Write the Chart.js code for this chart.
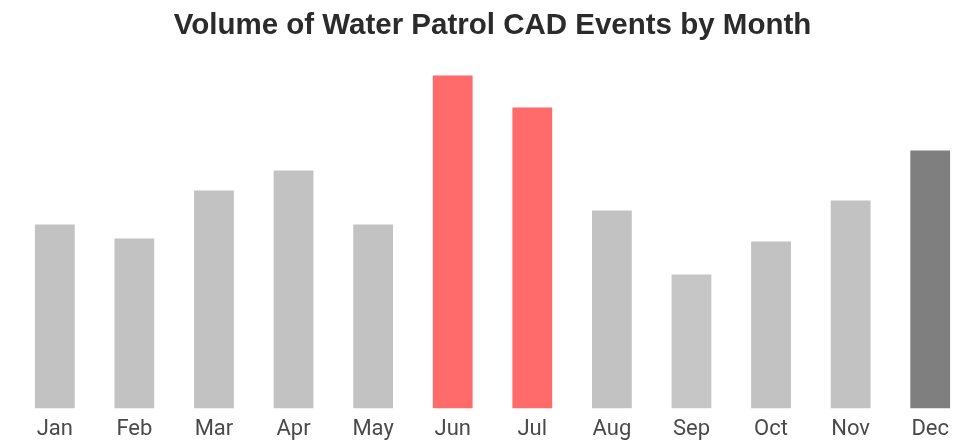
<!DOCTYPE html>
<html>
<head>
<meta charset="utf-8">
<script src="https://cdn.jsdelivr.net/npm/chart.js@4/dist/chart.umd.min.js"></script>
<style>
  html, body { margin: 0; padding: 0; background: #fff; overflow: hidden; }
  #wrap { width: 980px; height: 456px; }
</style>
</head>
<body>
<div id="wrap"><canvas id="c" width="980" height="456"></canvas></div>
<script>
// Monthly Water Patrol CAD event counts
const months = ['Jan', 'Feb', 'Mar', 'Apr', 'May', 'Jun', 'Jul', 'Aug', 'Sep', 'Oct', 'Nov', 'Dec'];
const events = [184, 170, 218, 238, 184, 333, 301, 198, 134, 167, 208, 258];
const barColors = ['#c2c2c2', '#c2c2c2', '#c2c2c2', '#c2c2c2', '#c2c2c2', '#ff6b6b', '#ff6b6b',
                   '#c2c2c2', '#c6c6c6', '#c2c2c2', '#c2c2c2', '#7f7f7f'];

new Chart(document.getElementById('c'), {
  type: 'bar',
  data: {
    labels: months,
    datasets: [{
      data: events,
      backgroundColor: barColors,
      borderWidth: 0,
      barPercentage: 0.5,
      categoryPercentage: 1.0
    }]
  },
  options: {
    responsive: false,
    animation: false,
    layout: { padding: { left: 15, right: 10, top: 8, bottom: 5 } },
    plugins: {
      legend: { display: false },
      tooltip: { enabled: false },
      title: {
        display: true,
        text: 'Volume of Water Patrol CAD Events by Month',
        color: '#2b2b2b',
        font: { family: 'Liberation Sans', size: 29.5, weight: 'bold' },
        padding: { top: 0, bottom: 15 }
      }
    },
    scales: {
      x: {
        grid: { display: false, drawTicks: false },
        border: { display: false },
        ticks: {
          color: '#4a4a4a',
          font: { family: 'Roboto', size: 22 },
          padding: 8
        }
      },
      y: {
        display: false,
        min: 0,
        max: 350
      }
    }
  }
});
</script>
</body>
</html>
